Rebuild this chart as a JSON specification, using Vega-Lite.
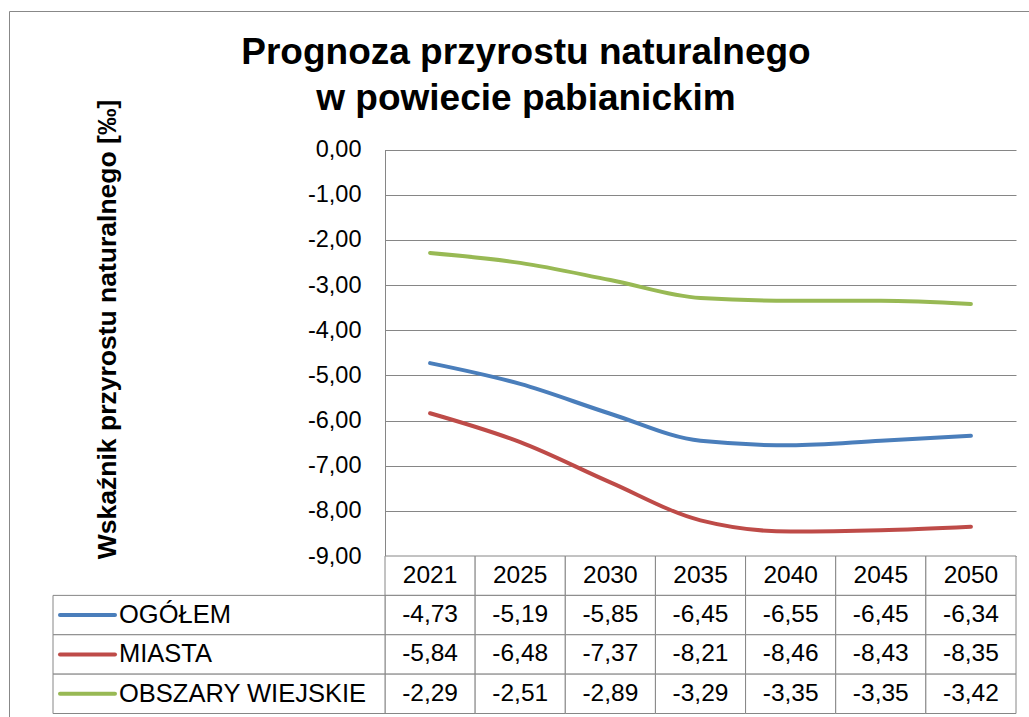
{
  "$schema": "https://vega.github.io/schema/vega-lite/v6.json",
  "width": 1020,
  "height": 706,
  "autosize": {"type": "none"},
  "padding": {"left": 9, "top": 11, "right": 0, "bottom": 0},
  "background": "white",
  "config": {
    "locale": {"number": {"decimal": ",", "thousands": " ", "grouping": [3], "currency": ["", " zł"], "minus": "-"}},
    "view": {"stroke": "#888888", "strokeWidth": 1},
    "font": "Liberation Sans",
    "text": {"font": "Liberation Sans", "fontSize": 25, "color": "#000000"}
  },
  "title": {
    "text": ["Prognoza przyrostu naturalnego", "w powiecie pabianickim"],
    "font": "Liberation Sans",
    "fontSize": 37,
    "fontWeight": "bold",
    "color": "#000000",
    "lineHeight": 46,
    "anchor": "middle",
    "frame": "group",
    "offset": -107,
    "dx": 7
  },
  "data": {
    "values": [
      {"year": "2021", "series": "OGÓŁEM", "value": -4.73},
      {"year": "2025", "series": "OGÓŁEM", "value": -5.19},
      {"year": "2030", "series": "OGÓŁEM", "value": -5.85},
      {"year": "2035", "series": "OGÓŁEM", "value": -6.45},
      {"year": "2040", "series": "OGÓŁEM", "value": -6.55},
      {"year": "2045", "series": "OGÓŁEM", "value": -6.45},
      {"year": "2050", "series": "OGÓŁEM", "value": -6.34},
      {"year": "2021", "series": "MIASTA", "value": -5.84},
      {"year": "2025", "series": "MIASTA", "value": -6.48},
      {"year": "2030", "series": "MIASTA", "value": -7.37},
      {"year": "2035", "series": "MIASTA", "value": -8.21},
      {"year": "2040", "series": "MIASTA", "value": -8.46},
      {"year": "2045", "series": "MIASTA", "value": -8.43},
      {"year": "2050", "series": "MIASTA", "value": -8.35},
      {"year": "2021", "series": "OBSZARY WIEJSKIE", "value": -2.29},
      {"year": "2025", "series": "OBSZARY WIEJSKIE", "value": -2.51},
      {"year": "2030", "series": "OBSZARY WIEJSKIE", "value": -2.89},
      {"year": "2035", "series": "OBSZARY WIEJSKIE", "value": -3.29},
      {"year": "2040", "series": "OBSZARY WIEJSKIE", "value": -3.35},
      {"year": "2045", "series": "OBSZARY WIEJSKIE", "value": -3.35},
      {"year": "2050", "series": "OBSZARY WIEJSKIE", "value": -3.42}
    ]
  },
  "layer": [
    {
      "mark": {"type": "line", "strokeWidth": 4, "interpolate": "monotone", "strokeCap": "round", "strokeJoin": "round"},
      "encoding": {
        "x": {"field": "year", "type": "ordinal", "scale": {"type": "point", "domain": ["2021", "2025", "2030", "2035", "2040", "2045", "2050"], "range": [376, 1007], "padding": 0.5}, "axis": null},
        "y": {
          "field": "value", "type": "quantitative",
          "scale": {"domain": [-9, 0], "range": [545, 138.5], "nice": false, "zero": false},
          "axis": {
            "values": [-9, -8, -7, -6, -5, -4, -3, -2, -1, 0],
            "format": ".2f",
            "offset": -376,
            "ticks": false,
            "labelPadding": 24,
            "labelFont": "Liberation Sans",
            "labelFontSize": 23.5,
            "labelColor": "#000000",
            "domainColor": "#868686",
            "domainWidth": 1,
            "grid": true,
            "gridColor": "#868686",
            "gridWidth": 1,
            "gridOpacity": 1,
            "title": "Wskaźnik przyrostu naturalnego [‰]",
            "titleFont": "Liberation Sans",
            "titleFontSize": 26.5,
            "titleFontWeight": "bold",
            "titleColor": "#000000",
            "titleAngle": -90,
            "titleAlign": "center",
            "titleBaseline": "middle",
            "titleX": -278,
            "titleY": 318
          }
        },
        "color": {"field": "series", "type": "nominal", "scale": {"domain": ["OGÓŁEM", "MIASTA", "OBSZARY WIEJSKIE"], "range": ["#4A7EBB", "#BE4B48", "#98B954"]}, "legend": null}
      }
    },
    {
      "encoding": {
        "x": {"field": "year", "type": "ordinal", "scale": {"type": "band", "domain": ["2021", "2025", "2030", "2035", "2040", "2045", "2050"], "range": [376, 1007], "paddingInner": 0, "paddingOuter": 0}, "axis": null}
      },
      "layer": [
        {
          "transform": [{"aggregate": [{"op": "count", "as": "n"}], "groupby": ["year"]}],
          "mark": {"type": "rect", "fill": "white", "stroke": "#868686", "strokeWidth": 1},
          "encoding": {"y": {"datum": "header", "type": "nominal", "scale": {"type": "band", "domain": ["header", "OGÓŁEM", "MIASTA", "OBSZARY WIEJSKIE"], "range": [545, 702.5], "paddingInner": 0, "paddingOuter": 0}, "axis": null}}
        },
        {
          "transform": [{"aggregate": [{"op": "count", "as": "n"}], "groupby": ["year"]}],
          "mark": {"type": "text", "align": "center", "baseline": "middle", "fontSize": 24.5, "color": "#000000"},
          "encoding": {
            "y": {"datum": "header", "type": "nominal"},
            "text": {"field": "year", "type": "nominal"}
          }
        },
        {
          "mark": {"type": "rect", "fill": "white", "stroke": "#868686", "strokeWidth": 1},
          "encoding": {"y": {"field": "series", "type": "nominal"}}
        },
        {
          "mark": {"type": "text", "align": "center", "baseline": "middle", "fontSize": 24.5, "color": "#000000"},
          "encoding": {
            "y": {"field": "series", "type": "nominal"},
            "text": {"field": "value", "type": "quantitative", "format": ".2f"}
          }
        }
      ]
    },
    {
      "transform": [{"aggregate": [{"op": "count", "as": "n"}], "groupby": ["series"]}],
      "encoding": {
        "x": {"datum": "legend", "type": "nominal", "scale": {"type": "band", "domain": ["legend"], "range": [44, 376], "paddingInner": 0, "paddingOuter": 0}, "axis": null},
        "y": {"field": "series", "type": "nominal", "scale": {"type": "band", "domain": ["header", "OGÓŁEM", "MIASTA", "OBSZARY WIEJSKIE"], "range": [545, 702.5], "paddingInner": 0, "paddingOuter": 0}, "axis": null}
      },
      "layer": [
        {
          "mark": {"type": "rect", "fill": "white", "stroke": "#868686", "strokeWidth": 1}
        },
        {
          "mark": {"type": "point", "shape": "stroke", "filled": false, "size": 3025, "strokeWidth": 4, "strokeCap": "round", "opacity": 1, "xOffset": 34.5},
          "encoding": {
            "x": {"datum": "legend", "type": "nominal", "bandPosition": 0},
            "color": {"field": "series", "type": "nominal", "scale": {"domain": ["OGÓŁEM", "MIASTA", "OBSZARY WIEJSKIE"], "range": ["#4A7EBB", "#BE4B48", "#98B954"]}, "legend": null}
          }
        },
        {
          "mark": {"type": "text", "align": "left", "baseline": "middle", "fontSize": 25.5, "color": "#000000", "dx": 66},
          "encoding": {
            "x": {"datum": "legend", "type": "nominal", "bandPosition": 0},
            "text": {"field": "series", "type": "nominal"}
          }
        }
      ]
    }
  ],
  "resolve": {"scale": {"x": "independent", "y": "independent", "color": "independent"}}
}
